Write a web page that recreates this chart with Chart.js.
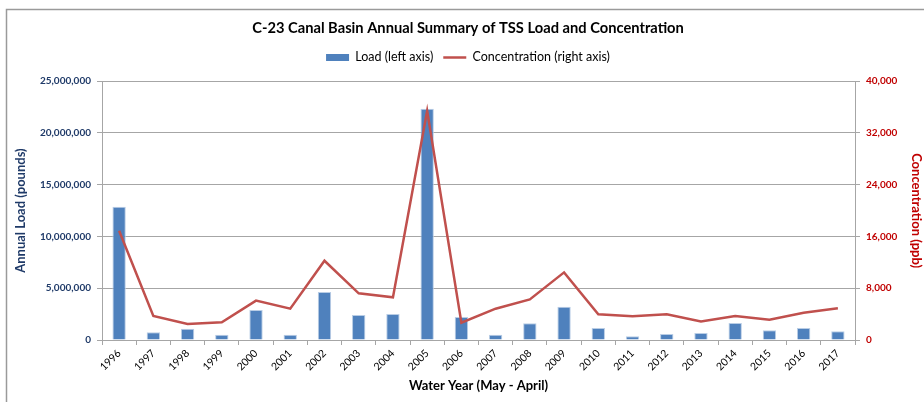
<!DOCTYPE html>
<html>
<head>
<meta charset="utf-8">
<script src="https://cdn.jsdelivr.net/npm/chart.js@4.4.1/dist/chart.umd.min.js"></script>
<style>
  html, body { margin: 0; padding: 0; background: #ffffff; }
  #wrap { position: relative; width: 924px; height: 402px; }
</style>
</head>
<body>
<div id="wrap"><canvas id="c" width="924" height="402"></canvas></div>
<script>
const years = ['1996','1997','1998','1999','2000','2001','2002','2003','2004','2005','2006',
               '2007','2008','2009','2010','2011','2012','2013','2014','2015','2016','2017'];
const loadPounds = [12870000, 740000, 1090000, 510000, 2900000, 510000, 4630000, 2410000, 2500000, 22330000, 2220000,
                    510000, 1610000, 3210000, 1160000, 360000, 580000, 680000, 1640000, 930000, 1160000, 840000];
const concPpb = [16880, 3710, 2470, 2730, 6080, 4840, 12250, 7210, 6590, 35420, 2680,
                 4840, 6280, 10450, 3960, 3660, 3960, 2880, 3710, 3140, 4220, 4890];
const leftTicks = [0, 5000000, 10000000, 15000000, 20000000, 25000000];
const rightTicks = [0, 8000, 16000, 24000, 32000, 40000];

const FONT = 'Lato, "Liberation Sans", sans-serif';
const NAVY = '#1F3A68';
const RED = '#C00000';
const GRID = '#A6A6A6';

const frame = {
  id: 'frame',
  beforeDraw(chart) {
    const ctx = chart.ctx;
    ctx.save();
    ctx.fillStyle = '#ffffff';
    ctx.fillRect(0, 0, chart.width, chart.height);
    ctx.strokeStyle = '#9a9a9a';
    ctx.lineWidth = 1.5;
    ctx.beginPath();
    ctx.moveTo(6.5, chart.height + 2);
    ctx.lineTo(6.5, 9.5);
    ctx.lineTo(chart.width + 2, 9.5);
    ctx.stroke();
    ctx.restore();
  }
};

const chart = new Chart(document.getElementById('c'), {
  data: {
    labels: years,
    datasets: [
      {
        type: 'line',
        label: 'Concentration (right axis)',
        data: concPpb,
        yAxisID: 'yR',
        borderColor: '#C0504D',
        backgroundColor: '#C0504D',
        borderWidth: 2.5,
        pointRadius: 0,
        tension: 0,
        order: 0
      },
      {
        type: 'bar',
        label: 'Load (left axis)',
        data: loadPounds,
        yAxisID: 'yL',
        backgroundColor: '#4F81BD',
        borderColor: '#B9CDE5',
        borderWidth: {top: 1, left: 1, right: 1, bottom: 0},
        barPercentage: 0.39,
        categoryPercentage: 1.0,
        order: 1
      }
    ]
  },
  options: {
    responsive: false,
    animation: false,
    devicePixelRatio: 1,
    layout: { padding: { top: 0, left: 12, right: 0, bottom: 0 } },
    plugins: {
      title: {
        display: true,
        text: 'C-23 Canal Basin Annual Summary of TSS Load and Concentration',
        color: '#000000',
        font: { family: FONT, size: 14.7, weight: 'bold', lineHeight: 1.2 },
        padding: { top: 19, bottom: 4.5 }
      },
      legend: {
        display: true,
        position: 'top',
        labels: {
          color: '#000000',
          font: { family: FONT, size: 12.5 },
          usePointStyle: true,
          pointStyleWidth: 23,
          boxHeight: 7,
          padding: 10,
          generateLabels(ch) {
            return [
              { text: 'Load (left axis)', fillStyle: '#4F81BD', strokeStyle: '#4F81BD', lineWidth: 0, pointStyle: 'rect', datasetIndex: 1, fontColor: '#000' },
              { text: 'Concentration (right axis)', fillStyle: '#C0504D', strokeStyle: '#C0504D', lineWidth: 2.5, pointStyle: 'line', datasetIndex: 0, fontColor: '#000' }
            ];
          }
        }
      },
      tooltip: { enabled: false }
    },
    scales: {
      x: {
        type: 'category',
        offset: true,
        grid: { display: true, drawOnChartArea: false, drawTicks: true, tickLength: 5, color: GRID, offset: true },
        border: { display: true, color: GRID, width: 1 },
        ticks: {
          color: '#000000',
          font: { family: FONT, size: 10.5 },
          maxRotation: 45,
          minRotation: 45,
          autoSkip: false,
          padding: 2
        },
        title: {
          display: true,
          text: 'Water Year (May - April)',
          color: '#000000',
          font: { family: FONT, size: 13, weight: 'bold', lineHeight: 1.2 },
          padding: { top: 0, bottom: 8 }
        },
        afterFit(s) { s.height = 62; }
      },
      yL: {
        type: 'linear',
        position: 'left',
        min: 0,
        max: 25000000,
        afterBuildTicks(s) { s.ticks = leftTicks.map(v => ({ value: v })); },
        grid: { display: true, color: GRID, lineWidth: 1, tickLength: 5, drawTicks: true },
        border: { display: true, color: GRID, width: 1 },
        ticks: {
          color: NAVY,
          font: { family: FONT, size: 10, weight: 'bold' },
          padding: 6,
          callback: v => Number(v).toLocaleString('en-US')
        },
        title: {
          display: true,
          text: 'Annual Load (pounds)',
          color: NAVY,
          font: { family: FONT, size: 13, weight: 'bold', lineHeight: 1.2 },
          padding: { top: 1, bottom: 0 }
        },
        afterFit(s) { s.width = 90; }
      },
      yR: {
        type: 'linear',
        position: 'right',
        min: 0,
        max: 40000,
        afterBuildTicks(s) { s.ticks = rightTicks.map(v => ({ value: v })); },
        grid: { display: true, drawOnChartArea: false, color: GRID, tickLength: 5, drawTicks: true },
        border: { display: true, color: GRID, width: 1 },
        ticks: {
          color: RED,
          font: { family: FONT, size: 10, weight: 'bold' },
          padding: 6,
          callback: v => Number(v).toLocaleString('en-US')
        },
        title: {
          display: true,
          text: 'Concentration (ppb)',
          color: RED,
          font: { family: FONT, size: 13, weight: 'bold', lineHeight: 1.2 },
          padding: { top: 0, bottom: 0 }
        },
        afterFit(s) { s.width = 69; }
      }
    }
  },
  plugins: [frame]
});

// add extra space below the legend so the plot area starts where the reference's does
const lg = chart.legend;
if (lg) {
  const origFit = lg.fit.bind(lg);
  lg.fit = function () { origFit(); this.height += 7.5; };
  chart.update();
}
</script>
</body>
</html>
